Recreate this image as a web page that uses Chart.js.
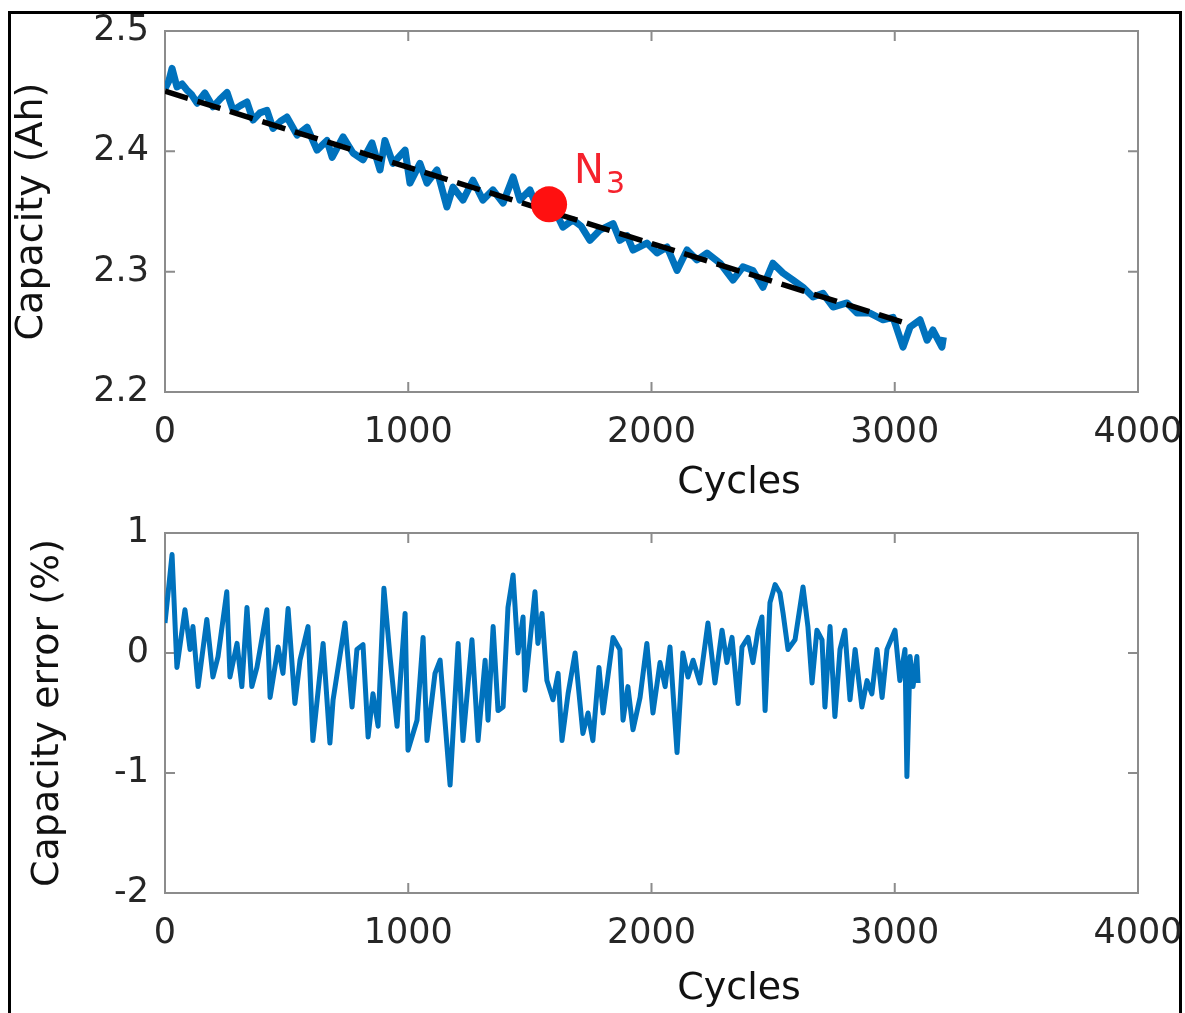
<!DOCTYPE html>
<html>
<head>
<meta charset="utf-8">
<script src="https://cdn.jsdelivr.net/npm/chart.js@4.4.1/dist/chart.umd.min.js"></script>
<style>
  html, body { margin: 0; padding: 0; background: #fff; overflow: hidden; width: 1185px; height: 1013px; }
  #frame { position: absolute; left: 8px; top: 11px; width: 1168px; height: 1100px; border: 3px solid #000; border-bottom: none; }
  #c1 { position: absolute; left: 0; top: 0; }
  #c2 { position: absolute; left: 0; top: 500px; }
</style>
</head>
<body>
<div id="frame"></div>
<canvas id="c1" width="1240" height="520"></canvas>
<canvas id="c2" width="1240" height="530"></canvas>
<script>
// top panel: measured capacity
const capCycles = [0, 15, 29, 49, 70, 90, 110, 132, 164, 197, 225, 255, 280, 310, 337, 362, 390, 419, 444, 475,
  501, 543, 584, 625, 666, 687, 732, 773, 814, 851, 884, 904, 937, 987, 1007, 1048, 1077, 1118, 1159, 1184,
  1225, 1266, 1307, 1348, 1390, 1431, 1459, 1500, 1529, 1560, 1600, 1636, 1677, 1710, 1747, 1788, 1842, 1870,
  1900, 1924, 1981, 2023, 2064, 2105, 2146, 2187, 2228, 2282, 2335, 2376, 2417, 2458, 2499, 2541, 2582, 2623,
  2664, 2705, 2746, 2804, 2845, 2898, 2952, 2993, 3034, 3063, 3104, 3133, 3157, 3194, 3200];
const capValues = [2.452, 2.458, 2.469, 2.4535, 2.456, 2.451, 2.447, 2.440, 2.4485, 2.437, 2.443, 2.449, 2.434,
  2.438, 2.441, 2.426, 2.432, 2.434, 2.419, 2.425, 2.4285, 2.4135, 2.420, 2.401, 2.409, 2.395, 2.412, 2.3986,
  2.393, 2.407, 2.3845, 2.409, 2.390, 2.401, 2.3736, 2.390, 2.3736, 2.3845, 2.3537, 2.3703, 2.3595, 2.376,
  2.3595, 2.368, 2.357, 2.3787, 2.3595, 2.368, 2.3537, 2.360, 2.352, 2.337, 2.343, 2.338, 2.326, 2.3346, 2.340,
  2.326, 2.330, 2.318, 2.3238, 2.3155, 2.3205, 2.301, 2.318, 2.3097, 2.3155, 2.307, 2.293, 2.304, 2.301, 2.287,
  2.307, 2.2988, 2.293, 2.287, 2.279, 2.282, 2.2706, 2.274, 2.2656, 2.2656, 2.260, 2.262, 2.2373, 2.254, 2.260,
  2.243, 2.2515, 2.2373, 2.2456];

// fitted trend (dashed)
const fitCycles = [0, 3050];
const fitValues = [2.450, 2.257];

// marked point N3
const n3Cycle = 1579;
const n3Value = 2.356;
const n3Label = 'N';
const n3Sub = '3';

// bottom panel: capacity error (%)
const errCycles = [0, 29, 49, 82, 103, 115, 136, 172, 197, 218, 254, 267, 296, 316, 337, 357, 378, 419, 432, 465,
  485, 506, 534, 555, 588, 608, 650, 678, 691, 740, 769, 789, 814, 835, 855, 876, 900, 925, 954, 987, 999, 1036,
  1061, 1077, 1110, 1131, 1172, 1205, 1225, 1262, 1287, 1316, 1328, 1349, 1369, 1390, 1410, 1431, 1451, 1472,
  1480, 1521, 1533, 1550, 1570, 1595, 1616, 1632, 1657, 1686, 1718, 1739, 1759, 1784, 1801, 1842, 1870, 1883,
  1903, 1924, 1953, 1981, 2006, 2035, 2056, 2076, 2105, 2129, 2150, 2171, 2199, 2232, 2261, 2290, 2310, 2331,
  2356, 2372, 2397, 2417, 2438, 2454, 2467, 2487, 2508, 2528, 2541, 2561, 2590, 2623, 2643, 2660, 2680, 2701,
  2713, 2734, 2754, 2775, 2795, 2816, 2837, 2865, 2886, 2906, 2927, 2948, 2968, 3001, 3021, 3042, 3050, 3063,
  3075, 3091, 3096];
const errValues = [0.25, 0.82, -0.12, 0.36, 0.03, 0.22, -0.28, 0.28, -0.2, -0.03, 0.51, -0.2, 0.08, -0.28, 0.38,
  -0.28, -0.12, 0.36, -0.37, 0.05, -0.17, 0.37, -0.42, -0.06, 0.22, -0.73, 0.08, -0.75, -0.39, 0.25, -0.45, 0.03,
  0.07, -0.7, -0.34, -0.61, 0.54, -0.03, -0.61, 0.33, -0.81, -0.56, 0.13, -0.73, -0.17, -0.06, -1.1, 0.08, -0.73,
  0.11, -0.73, -0.06, -0.56, 0.22, -0.48, -0.45, 0.38, 0.65, 0.0, 0.3, -0.31, 0.51, 0.08, 0.33, -0.23, -0.39,
  -0.17, -0.73, -0.34, 0.0, -0.67, -0.5, -0.73, -0.12, -0.5, 0.13, 0.03, -0.56, -0.28, -0.64, -0.37, 0.08, -0.5,
  -0.08, -0.28, 0.05, -0.83, 0.0, -0.2, -0.06, -0.25, 0.25, -0.25, 0.19, -0.08, 0.13, -0.42, 0.05, 0.13, -0.08,
  0.19, 0.3, -0.48, 0.42, 0.57, 0.5, 0.33, 0.03, 0.11, 0.55, 0.22, -0.25, 0.19, 0.11, -0.45, 0.22, -0.53, 0.03,
  0.19, -0.39, 0.03, -0.45, -0.23, -0.34, 0.03, -0.37, 0.03, 0.19, -0.23, 0.03, -1.03, -0.03, -0.28, -0.03, -0.25];

const xTicks = [0, 1000, 2000, 3000, 4000];
const xTitle = 'Cycles';

const FONT = "'DejaVu Sans', 'Liberation Sans', sans-serif";
const BLUE = '#0072bd';

const toPoints = (xs, ys) => xs.map((x, i) => ({x: x, y: ys[i]}));

// MATLAB-like box with inward ticks, plus the x label (sits right of centre in the source)
const boxPlugin = {
  id: 'boxPlugin',
  beforeDatasetsDraw(chart, args, opts) {
    const {ctx, chartArea: a, scales: {x, y}} = chart;
    ctx.save();
    ctx.strokeStyle = '#8c8c8c';
    ctx.lineWidth = 2;
    ctx.strokeRect(a.left, a.top, a.width, a.height);
    ctx.beginPath();
    x.ticks.forEach(t => {
      const px = x.getPixelForValue(t.value);
      ctx.moveTo(px, a.bottom); ctx.lineTo(px, a.bottom - 10);
      ctx.moveTo(px, a.top); ctx.lineTo(px, a.top + 10);
    });
    y.ticks.forEach(t => {
      const py = y.getPixelForValue(t.value);
      ctx.moveTo(a.left, py); ctx.lineTo(a.left + 10, py);
      ctx.moveTo(a.right, py); ctx.lineTo(a.right - 10, py);
    });
    ctx.stroke();
    ctx.fillStyle = '#111';
    ctx.font = '38px ' + FONT;
    ctx.textAlign = 'center';
    ctx.textBaseline = 'middle';
    ctx.fillText(xTitle, a.left + a.width * 0.59, a.bottom + opts.titleGap);
    ctx.restore();
  }
};

const n3Plugin = {
  id: 'n3Plugin',
  afterDatasetsDraw(chart) {
    const {ctx, scales: {x, y}} = chart;
    const px = x.getPixelForValue(n3Cycle);
    const py = y.getPixelForValue(n3Value);
    ctx.save();
    ctx.fillStyle = '#f5222d';
    ctx.textBaseline = 'alphabetic';
    ctx.font = '40px ' + FONT;
    ctx.fillText(n3Label, px + 25, py - 21);
    const w = ctx.measureText(n3Label).width;
    ctx.font = '30px ' + FONT;
    ctx.fillText(n3Sub, px + 27 + w, py - 11);
    ctx.restore();
  }
};

function axisOpts(min, max, step, title, titlePadY, xHeight, decimals) {
  return {
    x: {
      type: 'linear', min: 0, max: 4000,
      afterBuildTicks: s => { s.ticks = xTicks.map(v => ({value: v})); },
      afterFit: s => { s.height = xHeight; },
      grid: {display: false, drawTicks: false},
      border: {display: false},
      ticks: {padding: 20, color: '#262626', font: {family: FONT, size: 35}, maxRotation: 0,
        callback: v => String(v)}
    },
    y: {
      min: min, max: max,
      afterFit: s => { s.width = 165; s.paddingTop = 0; s.paddingBottom = 0; },
      grid: {display: false, drawTicks: false},
      border: {display: false},
      ticks: {stepSize: step, padding: 16, color: '#262626', font: {family: FONT, size: 35},
        callback: v => Number(v).toFixed(decimals)},
      title: {display: true, text: title, color: '#111', font: {family: FONT, size: 38}, padding: {top: titlePadY, bottom: 0}}
    }
  };
}

new Chart(document.getElementById('c1'), {
  type: 'line',
  data: {
    datasets: [
      {data: [{x: n3Cycle, y: n3Value}], showLine: false, pointRadius: 18, pointBackgroundColor: '#ff1010', pointBorderWidth: 0},
      {data: toPoints(fitCycles, fitValues), borderColor: '#000', borderWidth: 5.5, borderDash: [24, 10], pointRadius: 0},
      {data: toPoints(capCycles, capValues), borderColor: BLUE, borderWidth: 7, pointRadius: 0, tension: 0, borderJoinStyle: 'round'}
    ]
  },
  options: {
    responsive: false, animation: false,
    layout: {padding: {left: 0, top: 31, right: 102, bottom: 0}},
    plugins: {legend: {display: false}, tooltip: {enabled: false}, boxPlugin: {titleGap: 91}},
    scales: axisOpts(2.2, 2.5, 0.1, 'Capacity (Ah)', 9, 128, 1)
  },
  plugins: [boxPlugin, n3Plugin]
});

new Chart(document.getElementById('c2'), {
  type: 'line',
  data: {
    datasets: [
      {data: toPoints(errCycles, errValues), borderColor: BLUE, borderWidth: 5, pointRadius: 0, tension: 0, borderJoinStyle: 'round'}
    ]
  },
  options: {
    responsive: false, animation: false,
    layout: {padding: {left: 0, top: 33, right: 102, bottom: 0}},
    plugins: {legend: {display: false}, tooltip: {enabled: false}, boxPlugin: {titleGap: 96}},
    scales: axisOpts(-2, 1, 1, 'Capacity error (%)', 25, 137, 0)
  },
  plugins: [boxPlugin]
});
</script>
</body>
</html>
